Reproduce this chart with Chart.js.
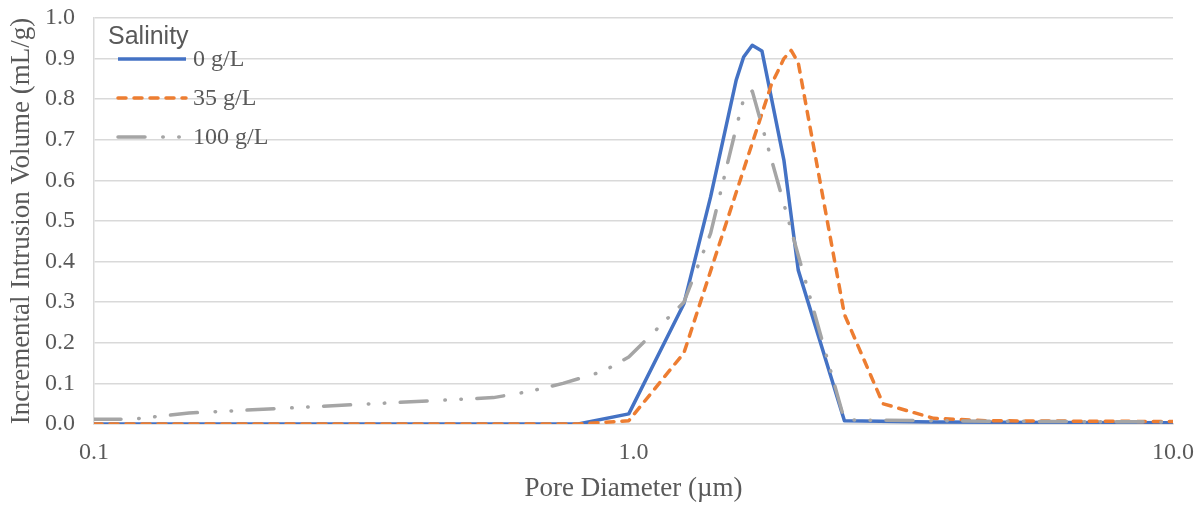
<!DOCTYPE html>
<html>
<head>
<meta charset="utf-8">
<script src="https://cdn.jsdelivr.net/npm/chart.js@4.4.0/dist/chart.umd.min.js"></script>
<style>
  html, body { margin: 0; padding: 0; background: #ffffff; }
  #wrap { width: 1198px; height: 505px; }
</style>
</head>
<body>
<div id="wrap"><canvas id="myChart" width="1198" height="505"></canvas></div>
<script>

// pore diameter (um) vs incremental intrusion (mL/g)
const dia0   = [0.1, 0.79, 0.98, 1.24, 1.39, 1.55, 1.60, 1.66, 1.73, 1.90, 2.02, 2.46, 3.6, 6.0, 10.0];
const vol0   = [0, 0, 0.025, 0.296, 0.56, 0.847, 0.904, 0.933, 0.919, 0.65, 0.379, 0.008, 0.005, 0.004, 0.003];

const dia35  = [0.1, 0.79, 0.98, 1.24, 1.80, 1.90, 1.96, 2.02, 2.46, 2.90, 3.6, 4.5, 10.0];
const vol35  = [0, 0, 0.008, 0.175, 0.835, 0.9, 0.92, 0.89, 0.27, 0.05, 0.014, 0.008, 0.006];

const dia100 = [0.1, 0.118, 0.15, 0.55, 0.64, 0.74, 0.88, 0.98, 1.24, 1.39, 1.55, 1.60, 1.66, 2.46, 3.6, 6.0, 10.0];
const vol100 = [0.012, 0.012, 0.027, 0.065, 0.08, 0.10, 0.13, 0.165, 0.30, 0.47, 0.73, 0.80, 0.82, 0.01, 0.008, 0.006, 0.005];

const seriesNames = ['0 g/L', '35 g/L', '100 g/L'];
const legendTitle = 'Salinity';
const xTicks = [0.1, 1, 10];
const xTitle = 'Pore Diameter (\u00b5m)';
const yTitle = 'Incremental Intrusion Volume (mL/g)';

const toPoints = (xs, ys) => xs.map((x, i) => ({ x: x, y: ys[i] }));

const grayText = '#595959';
const gridColor = '#D9D9D9';
const serif = '"Liberation Serif", "Times New Roman", serif';

// legend sits inside the plot, top-left, like the original
const salinityLegend = {
    id: 'salinityLegend',
    afterDatasetsDraw(chart) {
        const ctx = chart.ctx;
        ctx.save();
        ctx.fillStyle = grayText;
        ctx.font = '25px "Liberation Sans", Arial, sans-serif';
        ctx.textBaseline = 'alphabetic';
        ctx.textAlign = 'left';
        ctx.fillText(legendTitle, 108, 44);

        chart.data.datasets.forEach((ds, i) => {
            const y = 59 + i * 39;
            ctx.beginPath();
            ctx.strokeStyle = ds.borderColor;
            ctx.lineWidth = ds.borderWidth;
            ctx.lineCap = ds.borderCapStyle || 'butt';
            ctx.setLineDash(ds.borderDash || []);
            ctx.moveTo(118, y);
            ctx.lineTo(186, y);
            ctx.stroke();
            ctx.setLineDash([]);
            ctx.fillStyle = grayText;
            ctx.font = '24px ' + serif;
            ctx.textBaseline = 'middle';
            ctx.fillText(ds.label, 193, y + 1);
        });
        ctx.restore();
    }
};

const graph01 = document.getElementById('myChart').getContext('2d');

const myChart = new Chart(graph01, {
    type: 'line',
    data: {
        datasets: [{
            label: seriesNames[0],
            data: toPoints(dia0, vol0),
            borderColor: '#4472C4',
            borderWidth: 3.5,
            borderJoinStyle: 'round',
            order: 3,
        }, {
            label: seriesNames[1],
            data: toPoints(dia35, vol35),
            borderColor: '#ED7D31',
            borderWidth: 3.5,
            borderDash: [8, 8],
            borderCapStyle: 'round',
            borderJoinStyle: 'round',
            order: 2,
        }, {
            label: seriesNames[2],
            data: toPoints(dia100, vol100),
            borderColor: '#A5A5A5',
            borderWidth: 3.5,
            borderDash: [27, 17.75, 0.5, 15.5, 0.5, 15.45],
            borderCapStyle: 'round',
            borderJoinStyle: 'round',
            order: 1,
        }]
    },
    options: {
        responsive: false,
        animation: false,
        devicePixelRatio: 1,
        layout: {
            padding: { left: 0, right: 25, top: 18, bottom: 0 }
        },
        elements: {
            point: { radius: 0, hoverRadius: 0 },
            line: { tension: 0, fill: false }
        },
        plugins: {
            legend: { display: false },
            tooltip: { enabled: false },
            title: { display: false }
        },
        scales: {
            x: {
                type: 'logarithmic',
                min: 0.1,
                max: 10,
                afterBuildTicks: (scale) => {
                    scale.ticks = xTicks.map(v => ({ value: v }));
                },
                afterFit: (scale) => {
                    scale.height = 81;
                    scale.paddingLeft = 0;
                    scale.paddingRight = 0;
                },
                grid: { display: false, drawTicks: false },
                border: { display: true, color: gridColor, width: 1.5 },
                ticks: {
                    color: grayText,
                    font: { family: serif, size: 24 },
                    padding: 14,
                    maxRotation: 0,
                    autoSkip: false,
                    callback: (v) => Number(v).toFixed(1)
                },
                title: {
                    display: true,
                    text: xTitle,
                    color: grayText,
                    font: { family: serif, size: 27 },
                    padding: { top: 0, bottom: 0 }
                }
            },
            y: {
                min: 0,
                max: 1,
                afterFit: (scale) => {
                    scale.width = 94;
                    scale.paddingTop = 0;
                    scale.paddingBottom = 0;
                },
                grid: { color: gridColor, lineWidth: 1.5, drawTicks: false },
                border: { display: true, color: gridColor, width: 1.5 },
                ticks: {
                    stepSize: 0.1,
                    color: grayText,
                    font: { family: serif, size: 24 },
                    padding: 19,
                    callback: (v) => Number(v).toFixed(1)
                },
                title: {
                    display: true,
                    text: yTitle,
                    color: grayText,
                    font: { family: serif, size: 27 },
                    padding: { top: 6, bottom: 0 }
                }
            }
        }
    },
    plugins: [salinityLegend]
});

</script>
</body>
</html>
